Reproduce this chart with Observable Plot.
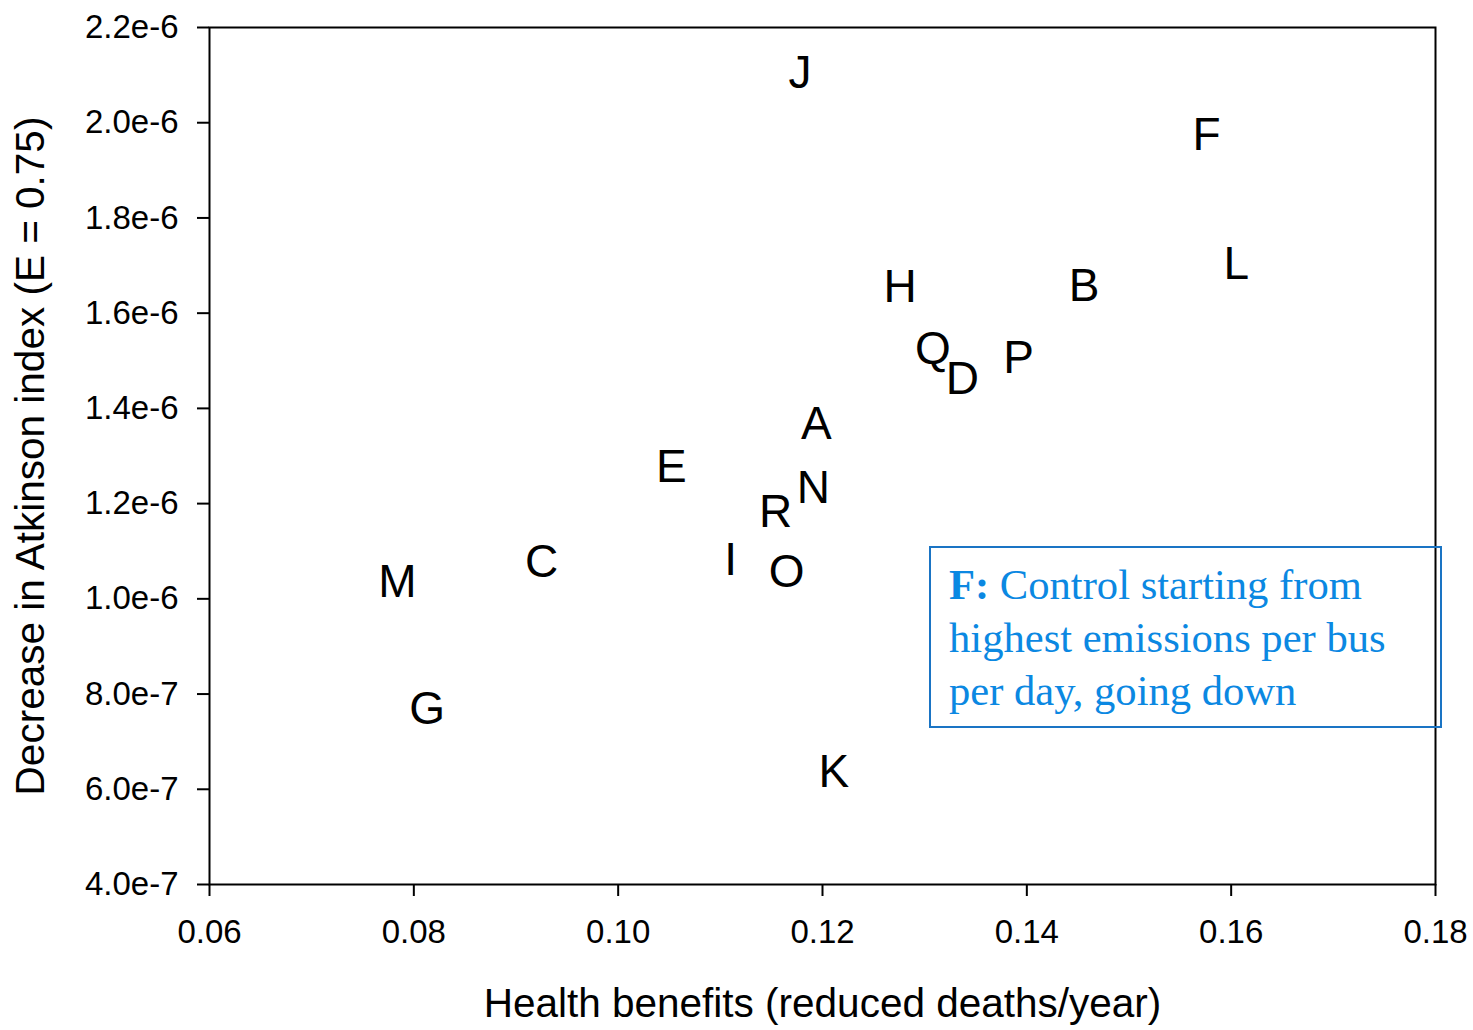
<!DOCTYPE html>
<html>
<head>
<meta charset="utf-8">
<script src="https://cdn.jsdelivr.net/npm/d3@7"></script>
<script src="https://cdn.jsdelivr.net/npm/@observablehq/plot@0.6"></script>
<style>
  html, body { margin: 0; padding: 0; background: #fff; }
  #wrap { position: relative; width: 1473px; height: 1030px; }
  #note {
    position: absolute; left: 929px; top: 546px; width: 509px; height: 178px;
    border: 2px solid #1a74c4; background: transparent; box-sizing: content-box;
    font-family: "Liberation Serif", "Times New Roman", serif; font-size: 42.6px;
    line-height: 53px; color: #0b88e2; padding: 0; margin: 0;
  }
  #note .inner { position: absolute; left: 18px; top: 10px; white-space: nowrap; }
</style>
</head>
<body>
<div id="wrap"></div>
<script>
const labels = ["J","F","L","H","B","Q","D","P","A","E","N","R","I","O","C","M","G","K"];
const healthBenefits = [0.1178,0.1576,0.1605,0.1276,0.1456,0.1308,0.1337,0.1392,0.1194,0.1052,0.1191,0.1154,0.1110,0.1165,0.0925,0.0784,0.0813,0.1211];
const atkinsonDecrease = [2.108e-6,1.976e-6,1.706e-6,1.658e-6,1.660e-6,1.528e-6,1.464e-6,1.508e-6,1.370e-6,1.279e-6,1.236e-6,1.184e-6,1.085e-6,1.058e-6,1.080e-6,1.037e-6,0.771e-6,0.639e-6];
const xTicks = [0.06,0.08,0.10,0.12,0.14,0.16,0.18];
const yTicks = [4e-7,6e-7,8e-7,1e-6,1.2e-6,1.4e-6,1.6e-6,1.8e-6,2e-6,2.2e-6];
const xTitle = "Health benefits (reduced deaths/year)";
const yTitle = "Decrease in Atkinson index (E = 0.75)";
const noteBold = "F:";
const noteLines = [" Control starting from", "highest emissions per bus", "per day, going down"];

const data = labels.map((l, i) => ({label: l, x: healthBenefits[i], y: atkinsonDecrease[i]}));

const chart = Plot.plot({
  width: 1473,
  height: 1030,
  marginLeft: 209,
  marginRight: 38,
  marginTop: 27,
  marginBottom: 146,
  style: {fontFamily: "Arial, 'Liberation Sans', sans-serif", color: "#000", background: "#fff"},
  x: {domain: [0.06, 0.18]},
  y: {domain: [4e-7, 2.2e-6]},
  marks: [
    Plot.frame({stroke: "#000", strokeWidth: 2}),
    Plot.axisX({ticks: xTicks, tickFormat: d3.format(".2f"), tickSize: 12, tickPadding: 23, fontSize: 33, strokeWidth: 2, label: null}),
    Plot.axisY({ticks: yTicks, tickFormat: d => d.toExponential(1), tickSize: 12, tickPadding: 19, fontSize: 33, strokeWidth: 2, label: null}),
    Plot.text([xTitle], {frameAnchor: "bottom", textAnchor: "middle", dy: 132, fontSize: 40.5, fill: "#000"}),
    Plot.text([yTitle], {frameAnchor: "left", textAnchor: "middle", dx: -178, rotate: -90, fontSize: 40.5, fill: "#000"}),
    Plot.text(data, {x: "x", y: "y", text: "label", fontSize: 46, dy: 1.5, fill: "#000"})
  ]
});
const wrap = document.getElementById("wrap");
wrap.appendChild(chart);
const note = document.createElement("div");
note.id = "note";
const inner = document.createElement("div");
inner.className = "inner";
inner.innerHTML = "<b>" + noteBold + "</b>" + noteLines.join("<br>");
note.appendChild(inner);
wrap.appendChild(note);
</script>
</body>
</html>
